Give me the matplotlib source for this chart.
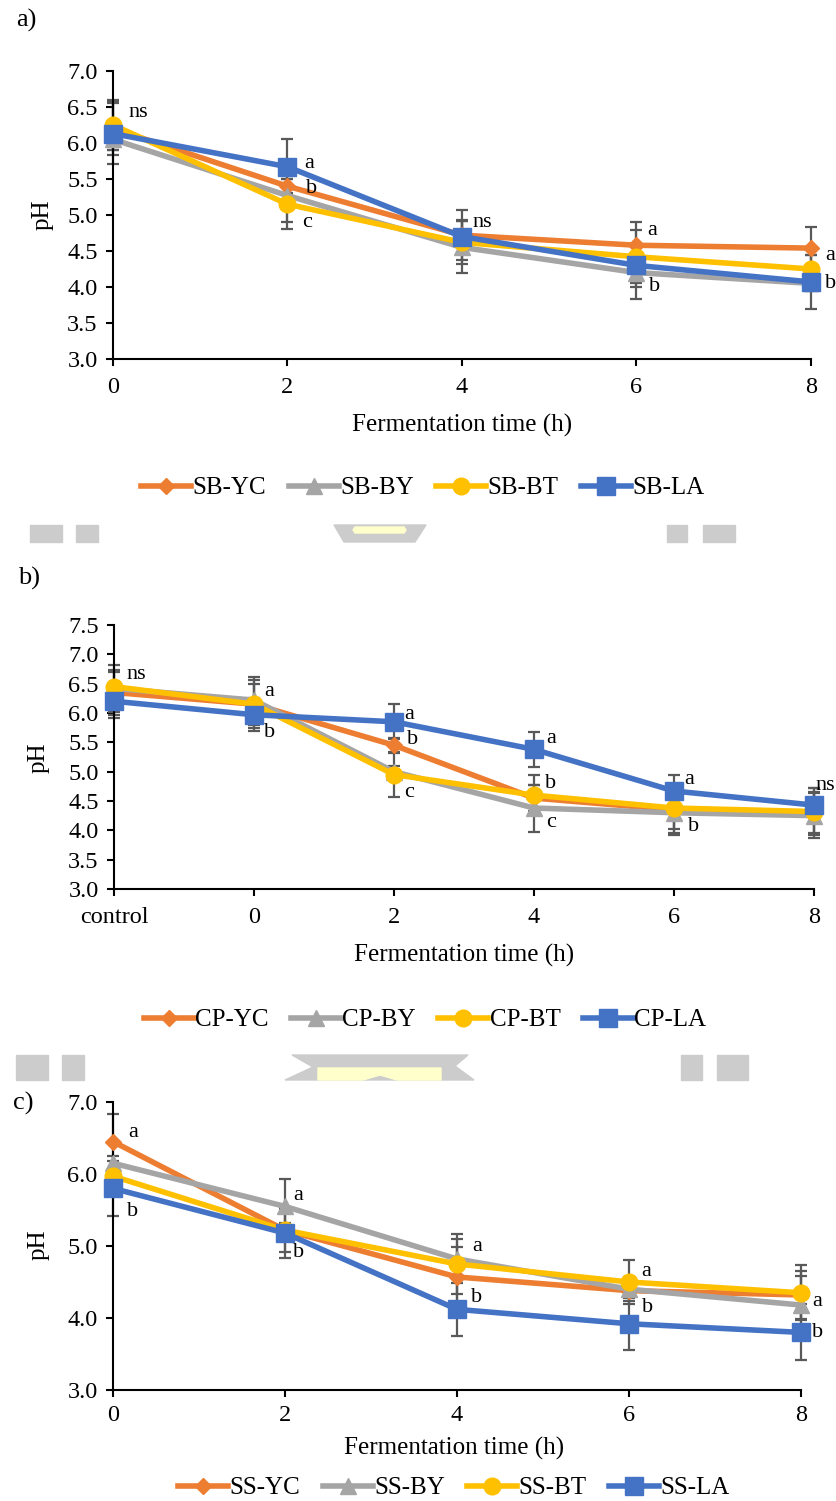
import matplotlib.pyplot as plt
from matplotlib.patches import Polygon, Rectangle
from matplotlib.ticker import MultipleLocator, FormatStrFormatter

plt.rcParams['font.family'] = ['Liberation Serif', 'DejaVu Serif']

# === DATA ===
# panel a) sourdough bread (SB)
time_a = [0, 2, 4, 6, 8]
sb_yc = [6.20, 5.40, 4.72, 4.58, 4.54]
sb_by = [6.05, 5.27, 4.55, 4.20, 4.05]
sb_bt = [6.25, 5.15, 4.62, 4.42, 4.25]
sb_la = [6.13, 5.67, 4.70, 4.30, 4.07]
sb_yc_err = [0.37, 0.10, 0.35, 0.32, 0.30]
sb_by_err = [0.15, 0.37, 0.36, 0.37, 0.10]
sb_bt_err = [0.35, 0.35, 0.30, 0.37, 0.20]
sb_la_err = [0.42, 0.38, 0.23, 0.30, 0.38]
sb_letters = ['ns', 'a', 'b', 'c', 'ns', 'a', 'b', 'a', 'b']
sb_letter_x = [0.29, 2.25, 2.27, 2.22, 4.23, 6.18, 6.21, 8.22, 8.22]
sb_letter_y = [6.43, 5.72, 5.37, 4.90, 4.90, 4.79, 4.01, 4.44, 4.05]

# panel b) CP
time_b = ['control', '0', '2', '4', '6', '8']
cp_yc = [6.35, 6.15, 5.45, 4.55, 4.35, 4.30]
cp_by = [6.42, 6.22, 5.00, 4.38, 4.30, 4.25]
cp_bt = [6.45, 6.15, 4.95, 4.60, 4.38, 4.32]
cp_la = [6.20, 5.97, 5.85, 5.38, 4.67, 4.43]
cp_yc_err = [0.38, 0.35, 0.13, 0.22, 0.40, 0.35]
cp_by_err = [0.40, 0.39, 0.10, 0.40, 0.38, 0.38]
cp_bt_err = [0.25, 0.41, 0.38, 0.34, 0.35, 0.40]
cp_la_err = [0.28, 0.28, 0.30, 0.30, 0.27, 0.30]
cp_letters = ['ns', 'a', 'b', 'a', 'b', 'c', 'a', 'b', 'c', 'a', 'b', 'ns']
cp_letter_x = [0.16, 1.11, 1.11, 2.11, 2.13, 2.11, 3.12, 3.12, 3.12, 4.11, 4.14, 5.08]
cp_letter_y = [6.65, 6.36, 5.66, 5.98, 5.54, 4.64, 5.56, 4.79, 4.13, 4.86, 4.06, 4.76]

# panel c) SS
time_c = [0, 2, 4, 6, 8]
ss_yc = [6.45, 5.22, 4.57, 4.38, 4.32]
ss_by = [6.15, 5.55, 4.82, 4.40, 4.18]
ss_bt = [5.97, 5.22, 4.75, 4.50, 4.35]
ss_la = [5.80, 5.18, 4.12, 3.92, 3.80]
ss_yc_err = [0.38, 0.30, 0.42, 0.10, 0.33]
ss_by_err = [0.10, 0.38, 0.28, 0.17, 0.40]
ss_bt_err = [0.10, 0.10, 0.42, 0.30, 0.38]
ss_la_err = [0.38, 0.35, 0.37, 0.37, 0.39]
ss_letters = ['a', 'b', 'a', 'b', 'a', 'b', 'a', 'b', 'a', 'b']
ss_letter_x = [0.23, 0.23, 2.15, 2.16, 4.23, 4.23, 6.20, 6.21, 8.19, 8.19]
ss_letter_y = [6.57, 5.48, 5.70, 4.91, 4.99, 4.28, 4.65, 4.15, 4.23, 3.80]

# === STYLE ===
colors = ['#ED7D31', '#A5A5A5', '#FFC000', '#4472C4']
markers = ['D', '^', 'o', 's']
msizes = [8.5, 11, 12, 13]
err_color = '#595959'

W, H = 837, 1501


def box(x0, y0, x1, y1):
    # pixel box -> figure fraction [left, bottom, width, height]
    return [x0 / W, 1 - y1 / H, (x1 - x0) / W, (y1 - y0) / H]


def fxy(x, y):
    return x / W, 1 - y / H


def draw_panel(ax, x, series, errs, names, ymin, ymax, ystep):
    for i, (vals, err) in enumerate(zip(series, errs)):
        eb = ax.errorbar(x, vals, yerr=err, fmt='none', ecolor=err_color,
                         elinewidth=1.6, capsize=4.5, capthick=1.6, zorder=2)
        for art in eb.lines[1] + eb.lines[2]:
            art.set_clip_on(False)
        ax.plot(x, vals, color=colors[i], lw=4, marker=markers[i],
                ms=msizes[i], mec=colors[i], mfc=colors[i], label=names[i],
                zorder=3 + i, clip_on=False)
    ax.set_ylim(ymin, ymax)
    ax.yaxis.set_major_locator(MultipleLocator(ystep))
    ax.yaxis.set_major_formatter(FormatStrFormatter('%.1f'))
    for s in ['top', 'right']:
        ax.spines[s].set_visible(False)
    for s in ['left', 'bottom']:
        ax.spines[s].set_linewidth(1.5)
    ax.tick_params(axis='both', direction='out', length=5, width=1.5,
                   labelsize=17.5)
    ax.tick_params(axis='x', pad=8)
    ax.tick_params(axis='y', pad=6)


def put_letters(ax, xs, ys, texts):
    for xx, yy, t in zip(xs, ys, texts):
        ax.text(xx, yy, t, fontsize=16, ha='center', va='center', zorder=10)


fig = plt.figure(figsize=(W / 100, H / 100), dpi=100)

# --- a) ---
ax_a = fig.add_axes(box(113, 71, 811, 359))
draw_panel(ax_a, time_a, [sb_yc, sb_by, sb_bt, sb_la],
           [sb_yc_err, sb_by_err, sb_bt_err, sb_la_err],
           ['SB-YC', 'SB-BY', 'SB-BT', 'SB-LA'], 3.0, 7.0, 0.5)
ax_a.set_xlim(0, 8)
ax_a.set_xticks(time_a)
put_letters(ax_a, sb_letter_x, sb_letter_y, sb_letters)

# --- b) ---
ax_b = fig.add_axes(box(114, 625, 814, 889))
pos_b = list(range(len(time_b)))
draw_panel(ax_b, pos_b, [cp_yc, cp_by, cp_bt, cp_la],
           [cp_yc_err, cp_by_err, cp_bt_err, cp_la_err],
           ['CP-YC', 'CP-BY', 'CP-BT', 'CP-LA'], 3.0, 7.5, 0.5)
ax_b.set_xlim(0, len(time_b) - 1)
ax_b.set_xticks(pos_b)
ax_b.set_xticklabels(time_b)
put_letters(ax_b, cp_letter_x, cp_letter_y, cp_letters)

# --- c) ---
ax_c = fig.add_axes(box(113, 1102, 801, 1390))
draw_panel(ax_c, time_c, [ss_yc, ss_by, ss_bt, ss_la],
           [ss_yc_err, ss_by_err, ss_bt_err, ss_la_err],
           ['SS-YC', 'SS-BY', 'SS-BT', 'SS-LA'], 3.0, 7.0, 1.0)
ax_c.set_xlim(0, 8)
ax_c.set_xticks(time_c)
ax_c.tick_params(axis='x', pad=6)
put_letters(ax_c, ss_letter_x, ss_letter_y, ss_letters)

# axis titles, panel tags, legends
for ax, tag, tag_xy, yl_xy, xl_xy, leg_xy in [
        (ax_a, 'a)', (26, 20), (43, 215), (462, 425), (423, 488)),
        (ax_b, 'b)', (29, 578), (39, 758), (464, 955), (425, 1020)),
        (ax_c, 'c)', (23, 1103), (39, 1245), (454, 1448), (454, 1488))]:
    fig.text(*fxy(*tag_xy), tag, fontsize=19, ha='center', va='center')
    fig.text(*fxy(*yl_xy), 'pH', fontsize=18, rotation=90,
             ha='center', va='center')
    fig.text(*fxy(*xl_xy), 'Fermentation time (h)', fontsize=18,
             ha='center', va='center')
    h, l = ax.get_legend_handles_labels()
    fig.legend(h, l, loc='center', bbox_to_anchor=fxy(*leg_xy), ncol=4,
               frameon=False, fontsize=18, handlelength=2.0,
               handletextpad=0.05, columnspacing=0.9, borderaxespad=0)

# watermark remnants between panels
wm_gray = '#CCCCCC'
wm_yellow = '#FFFFCC'
for x0, x1 in [(30, 62), (76, 98), (667, 687), (703, 735)]:
    fig.patches.append(Rectangle(fxy(x0, 542), (x1 - x0) / W, 17 / H,
                                 transform=fig.transFigure, color=wm_gray))
fig.patches.append(Polygon([fxy(334, 525), fxy(426, 525), fxy(415, 542),
                            fxy(344, 542)], closed=True,
                           transform=fig.transFigure, color=wm_gray))
fig.patches.append(Polygon([fxy(355, 527), fxy(404, 527), fxy(406, 530),
                            fxy(404, 533), fxy(355, 533), fxy(353, 530)],
                           closed=True, transform=fig.transFigure,
                           color=wm_yellow))
for x0, x1 in [(16, 48), (62, 84), (681, 702), (717, 748)]:
    fig.patches.append(Rectangle(fxy(x0, 1080), (x1 - x0) / W, 25 / H,
                                 transform=fig.transFigure, color=wm_gray))
fig.patches.append(Polygon([fxy(292, 1055), fxy(468, 1055), fxy(455, 1066),
                            fxy(474, 1080), fxy(285, 1080), fxy(313, 1067)],
                           closed=True, transform=fig.transFigure,
                           color=wm_gray))
fig.patches.append(Polygon([fxy(318, 1068), fxy(441, 1068), fxy(441, 1080),
                            fxy(397, 1080), fxy(380, 1075), fxy(363, 1080),
                            fxy(318, 1080)], closed=True,
                           transform=fig.transFigure, color=wm_yellow))

fig.savefig('out.png', dpi=100)
